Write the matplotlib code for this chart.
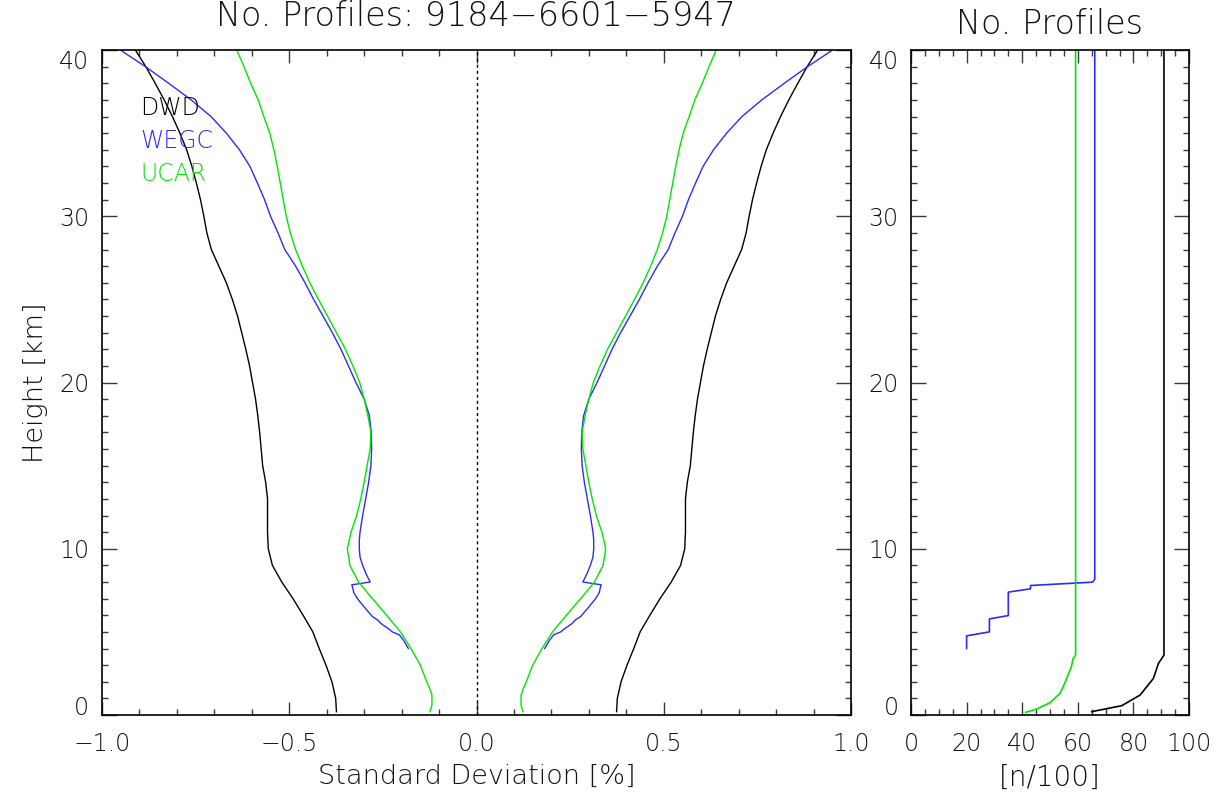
import matplotlib
matplotlib.use("Agg")
import matplotlib.pyplot as plt
from matplotlib.ticker import MultipleLocator, FixedLocator
import numpy as np

# ---------------- data ----------------
dwd_h = [0.2, 1, 2, 3, 4, 5, 6, 7, 8, 9, 10, 11, 12, 13, 14, 15, 16, 17, 18, 19,
         20, 21, 22, 23, 24, 25, 26, 27, 28, 29, 30, 31, 32, 33, 34, 35, 36, 37,
         38, 39, 40]
dwd_sd = [0.374, 0.376, 0.386, 0.402, 0.420, 0.437, 0.463, 0.490, 0.520, 0.545,
          0.556, 0.558, 0.558, 0.558, 0.563, 0.571, 0.575, 0.579, 0.584, 0.590,
          0.598, 0.606, 0.616, 0.627, 0.638, 0.652, 0.668, 0.688, 0.708, 0.720,
          0.728, 0.737, 0.748, 0.760, 0.774, 0.792, 0.812, 0.834, 0.858, 0.883,
          0.911]

wegc_h = [4.0, 4.5, 4.82, 5.0, 5.12, 5.5, 5.7, 5.92, 6.5, 7.0, 7.37, 7.6, 7.83,
          8.0, 8.5, 9.0, 9.5, 10, 10.5, 11, 12, 13, 14, 15, 16, 17, 18, 19, 20,
          21, 22, 23, 24, 25, 26, 27, 28, 29, 30, 31, 32, 33, 34, 35, 36, 37, 38,
          39, 40]
wegc_sd = [0.182, 0.195, 0.206, 0.225, 0.231, 0.255, 0.263, 0.278, 0.300, 0.318,
           0.328, 0.330, 0.333, 0.284, 0.295, 0.304, 0.311, 0.313, 0.313, 0.311,
           0.304, 0.296, 0.288, 0.282, 0.280, 0.281, 0.286, 0.300, 0.322, 0.342,
           0.362, 0.385, 0.410, 0.435, 0.458, 0.483, 0.512, 0.530, 0.550, 0.566,
           0.585, 0.605, 0.633, 0.668, 0.709, 0.762, 0.822, 0.884, 0.951]

ucar_h = [0.2, 0.6, 1.2, 1.6, 2, 3, 4, 5, 6, 7, 8, 9, 10, 11, 12, 13, 14, 15, 16,
          17, 18, 19, 20, 21, 22, 23, 24, 25, 26, 27, 28, 29, 30, 31, 32, 33, 34,
          35, 36, 37, 38, 39, 40]
ucar_sd = [0.124, 0.119, 0.119, 0.125, 0.133, 0.150, 0.175, 0.203, 0.240, 0.278,
           0.315, 0.338, 0.345, 0.335, 0.320, 0.309, 0.300, 0.292, 0.284, 0.282,
           0.290, 0.300, 0.312, 0.330, 0.350, 0.374, 0.398, 0.422, 0.445, 0.465,
           0.483, 0.497, 0.508, 0.516, 0.524, 0.532, 0.541, 0.552, 0.568, 0.583,
           0.603, 0.621, 0.640]

# number of profiles (n/100) vs height
dwd_nh = [0.2, 0.56, 1.2, 2.2, 3.1, 3.6, 40]
dwd_n = [65.0, 75.8, 82.4, 87.2, 89.0, 91.0, 91.0]

wegc_nh = [4.0, 4.76, 5.0, 5.78, 5.98, 7.39, 7.59, 7.79, 7.99, 8.17, 40]
wegc_n = [20.0, 20.0, 28.2, 28.2, 35.0, 35.0, 43.0, 43.0, 65.3, 66.1, 66.1]

ucar_nh = [0.16, 0.36, 0.74, 1.3, 1.8, 2.4, 2.9, 3.4, 3.6, 40]
ucar_n = [41.2, 45.2, 50.0, 53.6, 55.0, 56.5, 57.7, 58.3, 59.2, 59.2]

names = ["DWD", "WEGC", "UCAR"]
colors = ["black", "#2b2bff", "#00e600"]
title_main = "No. Profiles: 9184\u22126601\u22125947"
title_right = "No. Profiles"
x_ticks_main = [-1.0, -0.5, 0.0, 0.5, 1.0]
x_ticks_right = [0, 20, 40, 60, 80, 100]
y_ticks = [0, 10, 20, 30, 40]

# ---------------- style ----------------
plt.rcParams['font.family'] = ['DejaVu Sans']
plt.rcParams['font.weight'] = 'light'
plt.rcParams['axes.labelweight'] = 'light'
plt.rcParams['axes.linewidth'] = 1.2
TXT = '#111111'

fig = plt.figure(figsize=(12.24, 8.0), dpi=100)
ax = fig.add_axes([102 / 1224, 85 / 800, 749 / 1224, 665 / 800])
ax2 = fig.add_axes([911 / 1224, 85 / 800, 278 / 1224, 665 / 800])

lw = 1.0
for h, sd, c in zip([dwd_h, wegc_h, ucar_h], [dwd_sd, wegc_sd, ucar_sd], colors):
    sd = np.asarray(sd)
    ax.plot(sd, h, color=c, lw=lw)
    ax.plot(-sd, h, color=c, lw=lw)
ax.plot([0, 0], [0, 40], color='black', lw=1.0, linestyle=(0, (2.2, 2.2)))

ax.set_xlim(-1, 1)
ax.set_ylim(0, 40)
ax.xaxis.set_major_locator(FixedLocator(x_ticks_main))
ax.xaxis.set_minor_locator(MultipleLocator(0.1))
ax.set_xticklabels([f"{v:.1f}".replace('-', '\u2212') for v in x_ticks_main])

for h, n, c in zip([dwd_nh, wegc_nh, ucar_nh], [dwd_n, wegc_n, ucar_n], colors):
    ax2.plot(n, h, color=c, lw=1.2)
ax2.set_xlim(0, 100)
ax2.set_ylim(0, 40)
ax2.xaxis.set_major_locator(FixedLocator(x_ticks_right))
ax2.xaxis.set_minor_locator(MultipleLocator(5))

for a in (ax, ax2):
    a.yaxis.set_major_locator(FixedLocator(y_ticks))
    a.yaxis.set_minor_locator(MultipleLocator(1))
    a.tick_params(which='both', direction='in', top=True, right=True,
                  labelsize=17, colors='#3a3a3a', labelcolor=TXT)
    a.tick_params(axis='x', which='major', length=9.5, width=1.0, pad=12)
    a.tick_params(axis='y', which='major', length=11, width=1.0, pad=9)
    a.tick_params(which='minor', length=4.5, width=1.0)
    ticks = a.yaxis.get_major_ticks()
    ticks[0].label1.set_verticalalignment('baseline')
    ticks[-1].label1.set_verticalalignment('top')

ax.set_xlabel("Standard Deviation [%]", fontsize=19.5, color=TXT, labelpad=6,
              fontweight='light')
ax.set_ylabel("Height [km]", fontsize=19.5, color=TXT, labelpad=8,
              fontweight='light')
ax2.set_xlabel("[n/100]", fontsize=20, color=TXT, labelpad=6,
               fontweight='light')

fig.text(476 / 1224, 1 - 17 / 800, title_main, fontsize=24, color=TXT,
         ha='center', va='center')
fig.text(1049 / 1224, 1 - 24 / 800, title_right, fontsize=24, color=TXT,
         ha='center', va='center')

for i, (nm, c) in enumerate(zip(names, colors)):
    fig.text(140 / 1224, 1 - (108 + 33 * i) / 800, nm, fontsize=17, color=c,
             ha='left', va='center')

fig.savefig("out.png", dpi=100)
